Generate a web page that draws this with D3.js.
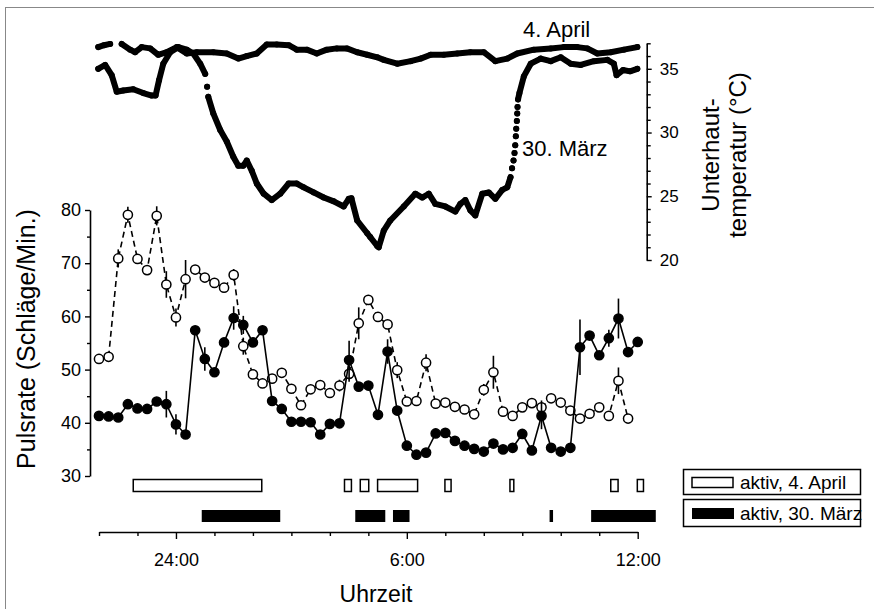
<!DOCTYPE html>
<html><head><meta charset="utf-8">
<script src="https://cdn.jsdelivr.net/npm/d3@7"></script>
<style>body{margin:0;background:#fff} svg text{font-family:"Liberation Sans",Arial,sans-serif;fill:#000}</style>
</head><body><svg id="c" width="874" height="609"></svg>
<script>
// ---- data ----
const pulseTimes = [22,22.25,22.5,22.75,23,23.25,23.5,23.75,24,24.25,24.5,24.75,25,25.25,25.5,25.75,26,26.25,26.5,26.75,27,27.25,27.5,27.75,28,28.25,28.5,28.75,29,29.25,29.5,29.75,30,30.25,30.5,30.75,31,31.25,31.5,31.75,32,32.25,32.5,32.75,33,33.25,33.5,33.75,34,34.25,34.5,34.75,35,35.25,35.5,35.75,36];
const pulseApril = [52.0,52.4,70.9,79.1,70.8,68.7,78.9,66.0,59.8,67.0,68.8,67.3,66.3,65.4,67.8,54.4,49.1,47.4,48.3,49.4,46.4,43.3,46.3,47.1,45.6,47.0,49.2,58.7,63.1,59.9,58.5,49.9,44.0,44.1,51.3,43.6,43.8,43.0,42.5,41.6,46.2,49.5,42.1,41.3,42.9,43.7,42.9,44.6,43.8,42.3,40.8,41.7,42.9,41.3,47.9,40.8];
const errApril = [0,0,1.7,1.5,0,0,1.8,2.5,1.7,3.6,0,0,0,0,1.1,1.6,0,0,0,0,0,0,0,0,0,1.1,1.5,3.0,0,0,0,1.5,0,0,1.6,0,0,0,0,0,1.1,3.1,0,0,0,0,1.3,0,0,0,0,0,0,0,2.5,0];
const pulseMaerz = [41.3,41.2,41.0,43.5,42.7,42.6,44.0,43.5,39.7,37.8,57.4,52.0,49.5,55.1,59.7,58.4,55.1,57.4,44.1,42.6,40.2,40.2,40.1,37.8,39.8,39.9,51.8,46.8,47.0,41.5,53.4,42.3,35.7,34.0,34.4,38.0,38.1,36.6,35.7,35.1,34.6,36.1,35.0,35.3,37.9,34.8,41.3,35.3,34.6,35.3,54.2,56.4,52.7,55.9,59.6,53.3,55.2];
const errMaerz = [0,0,0,0,0,0,0,2.5,1.9,0,0,2.2,0,0,2.2,1.7,0,0,0,0,0,0,0,0,0,0,3.6,0,0,0,2.3,0,0,0,0,0,0,0,0,0,0,0,0,0,0,0,2.5,0,0,0,5.2,0,0,1.6,3.75,0,0.9];

const tempMaerzTime = [21.98,22.16,22.33,22.46,22.63,22.89,23.15,23.37,23.47,23.56,23.67,23.85,24.06,24.28,24.45,24.63,24.76,24.81,24.84,24.97,25.15,25.32,25.49,25.62,25.75,25.84,25.97,26.10,26.28,26.49,26.71,26.93,27.14,27.32,27.58,27.84,28.10,28.36,28.49,28.56,28.71,28.97,29.05,29.23,29.27,29.40,29.57,29.92,30.22,30.40,30.57,30.74,31.00,31.26,31.39,31.52,31.65,31.78,31.96,32.13,32.30,32.48,32.61,32.695,32.734,32.773,32.799,32.817,32.833,32.843,32.859,32.869,32.877,32.890,32.927,33.04,33.22,33.48,33.74,34.00,34.26,34.52,34.86,35.21,35.38,35.45,35.62,35.80,35.99];
const tempMaerz = [35.0,35.3,34.5,33.2,33.3,33.4,33.1,32.9,32.9,34.1,35.4,36.3,36.7,36.5,36.2,35.4,34.6,33.6,32.8,31.5,30.2,29.3,28.1,27.4,27.4,27.8,27.0,26.0,25.2,24.7,25.2,26.0,26.0,25.7,25.3,24.9,24.6,24.2,24.8,24.85,23.1,22.1,21.8,21.1,21.0,22.3,23.1,24.2,25.2,24.9,25.2,24.4,24.2,23.8,24.4,24.7,23.9,23.5,25.2,25.3,24.8,25.5,25.7,26.5,27.2,27.8,28.4,29.0,29.7,30.3,30.9,31.5,32.0,32.6,33.1,34.4,35.4,35.8,35.6,35.9,35.4,35.3,35.6,35.7,35.4,34.5,34.9,34.8,35.0];
const tempAprilTime = [21.98,22.13,22.29,22.44,22.59,22.81,22.94,23.11,23.33,23.54,23.76,24.02,24.28,24.54,24.97,25.32,25.62,25.84,26.10,26.36,26.62,26.93,27.14,27.40,27.66,27.92,28.18,28.44,28.71,28.97,29.23,29.40,29.75,30.10,30.36,30.62,30.96,31.31,31.65,32.00,32.30,32.61,32.87,33.30,33.74,34.08,34.43,34.69,34.95,35.30,35.64,35.99];
const tempApril = [36.7,36.85,36.95,null,36.95,36.5,36.3,36.7,36.6,36.1,36.3,36.7,36.2,36.3,36.3,36.2,35.8,36.0,36.2,36.9,36.9,36.85,36.5,36.5,36.2,36.5,36.6,36.6,36.3,36.1,35.9,35.7,35.4,35.6,35.8,36.1,36.1,36.2,36.3,36.3,35.6,35.8,36.2,36.5,36.6,36.7,36.7,36.6,36.2,36.3,36.5,36.7];

const activeAprilStart = [22.89,28.38,28.79,29.24,30.99,32.68,35.30,35.99];
const activeAprilEnd   = [26.23,28.56,29.01,30.28,31.15,32.78,35.49,36.15];
const activeMaerzStart = [24.67,28.66,29.64,33.71,34.79];
const activeMaerzEnd   = [26.71,29.44,30.07,33.80,36.47];

const pulseTicks = [30,40,50,60,70,80];
const tempTicks = [20,25,30,35];
const timeTicks = [24,30,36];
const timeTickLabels = ["24:00","6:00","12:00"];

// ---- chart ----
const svg = d3.select("#c");
const x = d3.scaleLinear().domain([22,36]).range([99,637.7]);
const yP = d3.scaleLinear().domain([30,80]).range([476,210]);
const yT = d3.scaleLinear().domain([20,37]).range([260,43.3]);

// frame
svg.append("line").attr("x1",5.5).attr("x2",5.5).attr("y1",7).attr("y2",609).attr("stroke","#888");
svg.append("line").attr("x1",5).attr("x2",874).attr("y1",7.5).attr("y2",7.5).attr("stroke","#888");

function styleAxis(g, fs){
  g.selectAll("path.domain").attr("stroke","#000").attr("stroke-width",1.6);
  g.selectAll(".tick line").attr("stroke","#000").attr("stroke-width",1.4);
  g.selectAll("text").attr("font-size",fs).attr("font-family","Liberation Sans, Arial, sans-serif").attr("fill","#000");
}

// left axis
const gl = svg.append("g").attr("transform","translate(90,0)")
  .call(d3.axisLeft(yP).tickValues(pulseTicks).tickSize(5).tickSizeOuter(0).tickPadding(4));
styleAxis(gl, 18);
svg.append("g").attr("transform","translate(90,0)")
  .call(d3.axisLeft(yP).tickValues([35,45,55,65,75]).tickSize(3).tickFormat("").tickSizeOuter(0))
  .call(g=>{g.select("path.domain").remove(); g.selectAll("line").attr("stroke","#000").attr("stroke-width",1.4);});

// right axis
const gr = svg.append("g").attr("transform","translate(646.7,0)")
  .call(d3.axisRight(yT).tickValues(tempTicks).tickSize(5).tickSizeOuter(0).tickPadding(8));
styleAxis(gr, 17);
svg.append("g").attr("transform","translate(646.7,0)")
  .call(d3.axisRight(yT).tickValues(d3.range(21,38).filter(v=>v%5!==0)).tickSize(4).tickFormat("").tickSizeOuter(0))
  .call(g=>{g.select("path.domain").remove(); g.selectAll("line").attr("stroke","#000").attr("stroke-width",1.4);});

// bottom axis
const gb = svg.append("g").attr("transform","translate(0,532)")
  .call(d3.axisBottom(x).tickValues(timeTicks).tickSize(7).tickSizeOuter(0).tickPadding(14)
    .tickFormat((d,i)=>timeTickLabels[i]));
styleAxis(gb, 18);
svg.append("g").attr("transform","translate(0,532)")
  .call(d3.axisBottom(x).tickValues(d3.range(22,37).filter(v=>timeTicks.indexOf(v)<0)).tickSize(4).tickFormat("").tickSizeOuter(0))
  .call(g=>{g.select("path.domain").remove(); g.selectAll("line").attr("stroke","#000").attr("stroke-width",1.4);});

// axis titles
svg.append("text").attr("transform","translate(35,339) rotate(-90)").attr("text-anchor","middle")
  .attr("font-size",25).text("Pulsrate (Schläge/Min.)");
const rt = svg.append("text").attr("transform","translate(719,155) rotate(-90)").attr("text-anchor","middle").attr("font-size",24);
rt.append("tspan").attr("x",0).attr("dy",0).text("Unterhaut-");
rt.append("tspan").attr("x",0).attr("dy",27).text("temperatur (°C)");
svg.append("text").attr("x",376).attr("y",602).attr("text-anchor","middle").attr("font-size",23).text("Uhrzeit");

// temperature curves
function drawTemp(times, temps){
  const pts = times.map((t,i)=> temps[i]==null ? null : [x(t), yT(temps[i])]);
  const segs=[]; let cur=[];
  pts.forEach(p=>{
    if(!p){ if(cur.length) segs.push(cur); cur=[]; return; }
    if(cur.length){
      const q=cur[cur.length-1], dx=Math.abs(p[0]-q[0]), dy=Math.abs(p[1]-q[1]);
      if(dy>6 && dy>5*dx){ segs.push(cur); cur=[]; }
    }
    cur.push(p);
  });
  if(cur.length) segs.push(cur);
  const g = svg.append("g");
  segs.forEach(s=> g.append("path").attr("d", d3.line()(s)).attr("fill","none").attr("stroke","#000")
    .attr("stroke-width",6).attr("stroke-linecap","round").attr("stroke-linejoin","round"));
  g.selectAll("circle").data(pts.filter(Boolean)).join("circle")
    .attr("cx",d=>d[0]).attr("cy",d=>d[1]).attr("r",3).attr("fill","#000");
}
drawTemp(tempAprilTime, tempApril);
drawTemp(tempMaerzTime, tempMaerz);

svg.append("text").attr("x",523).attr("y",37).attr("font-size",22).text("4. April");
svg.append("text").attr("x",522).attr("y",156).attr("font-size",22).text("30. März");

// pulse series
function drawPulse(vals, errs, filled, dashed){
  const g = svg.append("g");
  const line = d3.line().x((d,i)=>x(pulseTimes[i])).y(d=>yP(d));
  g.append("path").attr("d", line(vals)).attr("fill","none").attr("stroke","#000").attr("stroke-width",1.6)
    .attr("stroke-dasharray", dashed ? "6,4" : null);
  vals.forEach((v,i)=>{
    if(errs[i]>0) g.append("line").attr("x1",x(pulseTimes[i])).attr("x2",x(pulseTimes[i]))
      .attr("y1",yP(v-errs[i])).attr("y2",yP(v+errs[i])).attr("stroke","#000").attr("stroke-width",1.6);
  });
  g.selectAll("circle").data(vals).join("circle")
    .attr("cx",(d,i)=>x(pulseTimes[i])).attr("cy",d=>yP(d)).attr("r",4.6)
    .attr("fill", filled ? "#000" : "#fff").attr("stroke","#000").attr("stroke-width",1.5);
}
drawPulse(pulseApril, errApril, false, true);
drawPulse(pulseMaerz, errMaerz, true, false);

// activity bars
svg.append("g").selectAll("rect").data(activeAprilStart).join("rect")
  .attr("x",(d)=>x(d)).attr("y",479.5).attr("width",(d,i)=>x(activeAprilEnd[i])-x(d)).attr("height",12)
  .attr("fill","#fff").attr("stroke","#000").attr("stroke-width",1.5);
svg.append("g").selectAll("rect").data(activeMaerzStart).join("rect")
  .attr("x",(d)=>x(d)).attr("y",510).attr("width",(d,i)=>x(activeMaerzEnd[i])-x(d)).attr("height",12)
  .attr("fill","#000");

// legend
const lg = svg.append("g");
lg.append("rect").attr("x",683.5).attr("y",469.5).attr("width",177).attr("height",25).attr("fill","#fff").attr("stroke","#000").attr("stroke-width",1.5);
lg.append("rect").attr("x",683.5).attr("y",499.5).attr("width",177).attr("height",27).attr("fill","#fff").attr("stroke","#000").attr("stroke-width",1.5);
lg.append("rect").attr("x",692).attr("y",477.5).attr("width",41).attr("height",10).attr("fill","#fff").attr("stroke","#000").attr("stroke-width",1.5);
lg.append("rect").attr("x",692).attr("y",508).attr("width",42).attr("height",11).attr("fill","#000");
lg.append("text").attr("x",740).attr("y",489).attr("font-size",19).text("aktiv, 4. April");
lg.append("text").attr("x",740).attr("y",520).attr("font-size",19).text("aktiv, 30. März");
</script></body></html>
